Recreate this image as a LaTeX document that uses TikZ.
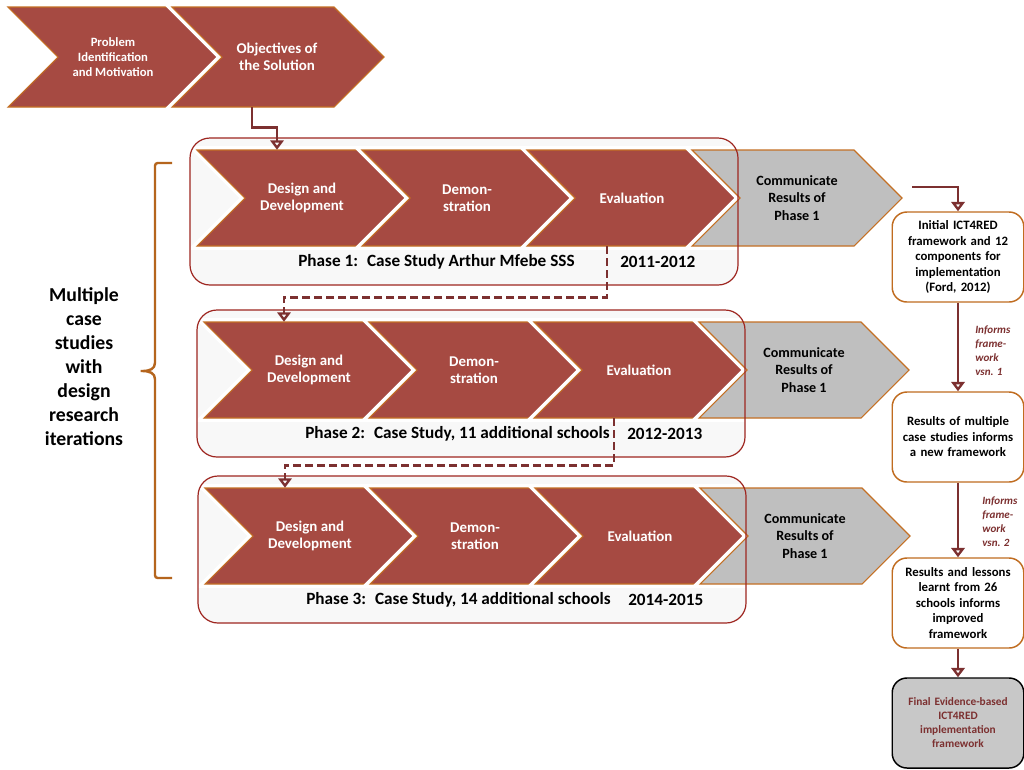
\documentclass[tikz,border=0pt]{standalone}
\usepackage{fontspec}
\setmainfont{Carlito}
\usetikzlibrary{arrows.meta,calc}

\definecolor{chevred}{RGB}{166,74,66}
\definecolor{chevedge}{RGB}{196,112,36}
\definecolor{chevgrey}{RGB}{191,191,191}
\definecolor{phaseedge}{RGB}{158,38,32}
\definecolor{phasefill}{RGB}{248,248,248}
\definecolor{flowcol}{RGB}{124,48,48}
\definecolor{fwedge}{RGB}{192,108,32}
\definecolor{finalfill}{RGB}{200,200,200}
\definecolor{bracecol}{RGB}{181,101,29}

\tikzset{
  chevbase/.style={draw=chevedge, line width=0.8pt, preaction={draw=white, line width=6pt}},
  redchev/.style={chevbase, fill=chevred},
  greychev/.style={chevbase, fill=chevgrey},
  chevtext/.style={text=white, align=center, font=\bfseries\fontsize{11.2}{13}\selectfont},
  commtext/.style={text=black, align=center, font=\bfseries\fontsize{10.6}{13}\selectfont},
  phasetext/.style={anchor=west, inner sep=0pt, font=\bfseries\fontsize{12.9}{15}\selectfont},
  flow/.style={draw=flowcol, line width=2.2pt, -{Triangle[open,length=7pt,width=10pt]}},
  dashflow/.style={flow, line width=1.9pt, dash pattern=on 6pt off 3pt},
  fwbox/.style={draw=fwedge, line width=1.1pt, fill=white, rounded corners=11pt,
    minimum width=98pt, minimum height=67.5pt, text width=92pt, align=center,
    font=\bfseries\fontsize{9.6}{11.6}\selectfont},
  finalbox/.style={fwbox, draw=black, fill=finalfill, text=flowcol,
    font=\bfseries\fontsize{8.5}{10.5}\selectfont},
  informs/.style={anchor=west, align=left, text=flowcol, inner sep=0pt,
    font=\bfseries\itshape\fontsize{8.3}{10.5}\selectfont}
}

% chevron step: name, left x, top y, shape style, text style, text
\newcommand{\chevron}[6]{%
  \filldraw[#4] (#2,#3) -- ++(\chevw,0) -- ++(\chevd,\chevd) -- ++(-\chevd,\chevd)
    -- ++(-\chevw,0) -- ++(\chevd,-\chevd) -- cycle;
  \node[#5, minimum height={1.5pt*\chevd}] (#1) at ({#2+105},{#3+\chevd}) {#6};
}

\begin{document}
\begin{tikzpicture}[x=0.75pt, y=-0.75pt]
% Parameters
\def\chevw{162}
\def\chevd{48}

\path[use as bounding box, fill=white] (0,0) rectangle (1024,769);

% First two steps on top
\begin{scope}
  \def\chevd{50}
  \chevron{pim}{8}{7}{redchev}{chevtext, font=\bfseries\fontsize{9.5}{11}\selectfont}{Problem\\Identification\\and Motivation}
  \chevron{obj}{172}{7}{redchev}{chevtext}{Objectives of\\the Solution}
\end{scope}

% One box per phase, each with the same four steps
\foreach \row/\dx/\dy/\phase/\years in {
    1/197/150/{Phase 1:~ Case Study Arthur Mfebe SSS}/2011-2012,
    2/204/322/{Phase 2:~ Case Study, 11 additional schools}/2012-2013,
    3/205/488/{Phase 3:~ Case Study, 14 additional schools}/2014-2015} {
  \begin{scope}[shift={(\dx,\dy)}]
    % Draw phase box background
    \fill[phasefill, rounded corners=15pt] (-7,-12) rectangle (541,135);

    % Draw the steps
    \chevron{dd\row}{0}{0}{redchev}{chevtext}{Design and\\Development}
    \chevron{dm\row}{165}{0}{redchev}{chevtext}{Demon-\\stration}
    \chevron{ev\row}{330}{0}{redchev}{chevtext}{Evaluation}
    \chevron{cr\row}{495}{0}{greychev}{commtext}{Communicate\\Results of\\Phase 1}

    % Box outline on top of the steps
    \draw[phaseedge, line width=0.9pt, rounded corners=15pt] (-7,-12) rectangle (541,135);

    % Phase caption
    \node[phasetext] (ph\row) at (101,112) {\phase};
    \node[phasetext] (yr\row) at (423,112) {\years};
  \end{scope}
}

% Flow between the steps
\draw[flow] ($(obj.south)+(-25,0)$) -- ++(0,20) -| ($(dd1.north)+(-25,0)$);
\draw[dashflow] ($(ev1.south)+(-25,0)$) -- ++(0,51) -| ($(dd2.north)+(-25,0)$);
\draw[dashflow] ($(ev2.south)+(-25,0)$) -- ++(0,47) -| ($(dd3.north)+(-25,0)$);

% Brace with its label
\draw[bracecol, line width=1.8pt, rounded corners=2pt]
  (172,163) -- (155,163) -- (155,360)
  .. controls (155,369) and (150,371) .. (139,371)
  .. controls (150,371) and (155,373) .. (155,382)
  -- (155,578) -- (172,578);
\node[align=center, font=\bfseries\fontsize{14.8}{18}\selectfont] (multi) at (84,367)
  {Multiple\\case\\studies\\with\\design\\research\\iterations};

% Framework versions down the right side
\coordinate (crout) at (912,187);
\node[fwbox] (initfw) at (958,257) {Initial ICT4RED\\framework and 12\\components for\\implementation\\(Ford, 2012)};
\node[fwbox] (casefw) at (958,437) {Results of multiple\\case studies informs\\a new framework};
\node[fwbox] (lessfw) at (958,603) {Results and lessons\\learnt from 26\\schools informs\\improved\\framework};
\node[finalbox] (finalfw) at (958,723) {Final Evidence-based\\ICT4RED\\implementation\\framework};

\draw[flow] (crout) -| (initfw.north);
\draw[flow] (initfw) -- (casefw);
\draw[flow] (casefw) -- (lessfw);
\draw[flow] (lessfw) -- (finalfw);

\node[informs] (inf1) at (975,351) {Informs\\frame-\\work\\vsn. 1};
\node[informs] (inf2) at (982,522) {Informs\\frame-\\work\\vsn. 2};
\end{tikzpicture}
\end{document}
